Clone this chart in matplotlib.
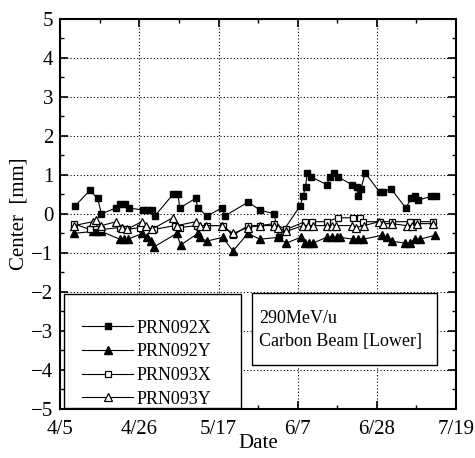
import matplotlib
matplotlib.use("Agg")
import matplotlib.pyplot as plt
from matplotlib.patches import Rectangle
from matplotlib.ticker import MultipleLocator

plt.rcParams['font.family'] = ['Liberation Serif', 'DejaVu Serif']
plt.rcParams['mathtext.fontset'] = 'stix'

# x = days since 4/5
x_ticks = [0, 21, 42, 63, 84, 105]
x_tick_labels = ["4/5", "4/26", "5/17", "6/7", "6/28", "7/19"]

prn092x_day = [3.9, 7.8, 9.9, 10.9, 14.7, 15.8, 17.1, 18.2, 21.9, 23.0, 24.3, 25.1,
               29.9, 31.2, 31.7, 35.9, 36.5, 38.9, 42.9, 43.7, 49.8, 53.0, 56.7, 58.0,
               63.6, 64.4, 65.1, 65.5, 66.5, 70.7, 71.6, 72.6, 73.7, 77.3, 78.7, 78.9,
               79.8, 80.9, 84.8, 85.6, 87.7, 91.7, 93.1, 94.1, 94.9, 98.4, 99.7]
prn092x_val = [0.2, 0.6, 0.4, 0.0, 0.15, 0.25, 0.25, 0.15, 0.1, 0.1, 0.1, -0.05,
               0.5, 0.5, 0.15, 0.4, 0.15, -0.05, 0.15, -0.05, 0.3, 0.1, 0.0, -0.6,
               0.2, 0.45, 0.7, 1.05, 0.95, 0.75, 0.95, 1.05, 0.95, 0.75, 0.7, 0.45,
               0.65, 1.05, 0.55, 0.55, 0.65, 0.15, 0.4, 0.45, 0.35, 0.45, 0.45]

prn092y_day = [3.6, 8.6, 9.7, 10.9, 15.8, 16.9, 17.9, 21.8, 23.0, 24.0, 24.8, 30.9,
               31.9, 36.5, 37.0, 38.8, 43.1, 45.8, 49.8, 53.0, 57.8, 59.9, 63.8, 64.9,
               66.0, 67.0, 70.7, 72.0, 73.3, 74.2, 77.7, 79.0, 80.3, 85.3, 86.6, 87.9,
               91.5, 92.8, 94.1, 95.4, 99.4]
prn092y_val = [-0.5, -0.45, -0.45, -0.45, -0.65, -0.65, -0.65, -0.5, -0.6, -0.7, -0.85, -0.5,
               -0.8, -0.5, -0.6, -0.7, -0.6, -0.95, -0.5, -0.65, -0.6, -0.75, -0.6, -0.75,
               -0.75, -0.75, -0.6, -0.6, -0.6, -0.6, -0.65, -0.65, -0.65, -0.55, -0.6, -0.7,
               -0.75, -0.75, -0.65, -0.65, -0.55]

prn093x_day = [3.6, 7.8, 9.4, 10.9, 15.8, 17.6, 21.1, 24.8, 30.4, 31.7, 36.2, 38.8,
               43.1, 45.8, 49.8, 53.0, 56.7, 59.9, 64.9, 66.7, 70.7, 73.7, 77.7, 79.5,
               80.3, 84.8, 87.9, 92.8, 94.6, 98.8]
prn093x_val = [-0.25, -0.4, -0.3, -0.4, -0.35, -0.4, -0.35, -0.4, -0.3, -0.35, -0.3, -0.3,
               -0.3, -0.55, -0.3, -0.3, -0.25, -0.4, -0.2, -0.2, -0.2, -0.1, -0.1, -0.1,
               -0.2, -0.2, -0.2, -0.2, -0.2, -0.2]

prn093y_day = [3.6, 8.6, 9.4, 10.9, 14.9, 16.3, 17.6, 21.6, 22.7, 24.2, 29.8, 30.9,
               36.0, 37.0, 38.6, 42.9, 45.8, 49.8, 53.0, 56.7, 57.8, 59.9, 64.4, 65.7,
               67.0, 70.8, 72.0, 73.2, 77.3, 78.5, 80.6, 84.6, 85.6, 87.9, 91.9, 93.3,
               94.6, 99.0]
prn093y_val = [-0.3, -0.2, -0.15, -0.3, -0.2, -0.35, -0.4, -0.2, -0.3, -0.4, -0.1, -0.3,
               -0.2, -0.3, -0.3, -0.3, -0.5, -0.35, -0.3, -0.3, -0.35, -0.45, -0.3, -0.3,
               -0.3, -0.3, -0.3, -0.3, -0.3, -0.35, -0.3, -0.2, -0.25, -0.25, -0.3, -0.3,
               -0.25, -0.25]

series_names = ["PRN092X", "PRN092Y", "PRN093X", "PRN093Y"]
note_lines = ["290MeV/u", "Carbon Beam [Lower]"]

fig = plt.figure(figsize=(4.75, 4.58), dpi=100)
ax = fig.add_axes([0.127, 0.107, 0.833, 0.852])

lw = 0.8
h1, = ax.plot(prn092x_day, prn092x_val, '-', color='black', lw=lw, marker='s', ms=5,
              mfc='black', mec='black', zorder=5)
h2, = ax.plot(prn092y_day, prn092y_val, '-', color='black', lw=lw, marker='^', ms=6,
              mfc='black', mec='black', zorder=5)
h3, = ax.plot(prn093x_day, prn093x_val, '-', color='black', lw=lw, marker='s', ms=5,
              mfc='white', mec='black', mew=0.9, zorder=6)
h4, = ax.plot(prn093y_day, prn093y_val, '-', color='black', lw=lw, marker='^', ms=6,
              mfc='white', mec='black', mew=0.9, zorder=6)

ax.set_xlim(0, 105)
ax.set_ylim(-5, 5)
ax.set_xticks(x_ticks)
ax.set_xticklabels(x_tick_labels)
ax.xaxis.set_minor_locator(MultipleLocator(10.5))
ax.yaxis.set_major_locator(MultipleLocator(1))
ax.yaxis.set_minor_locator(MultipleLocator(0.5))
ax.tick_params(which='both', direction='in', top=True, right=True, labelsize=15)
ax.tick_params(axis='x', which='major', pad=8)
ax.tick_params(axis='y', which='major', pad=5)
ax.tick_params(which='major', length=6, width=1.2)
ax.tick_params(which='minor', length=3, width=1.0)
for s in ax.spines.values():
    s.set_linewidth(1.5)
ax.grid(True, which='major', linestyle=(0, (1, 2)), color='black', linewidth=0.8)
ax.set_axisbelow(True)

ax.set_xlabel("Date", fontsize=15, labelpad=-4)
ax.set_ylabel("Center  [mm]", fontsize=15, labelpad=2)

# legend box
ax.add_patch(Rectangle((0.009, 0.003), 0.447, 0.292, transform=ax.transAxes,
                       facecolor='white', edgecolor='black', lw=1.0, zorder=8))
leg = ax.legend([h1, h2, h3, h4], series_names, loc='lower left',
                bbox_to_anchor=(0.033, -0.02), frameon=False, fontsize=13,
                handlelength=2.8, handletextpad=0.2, labelspacing=0.37, borderpad=0.0,
                markerscale=0.85)
leg.set_zorder(9)

# annotation box
ax.add_patch(Rectangle((0.484, 0.113), 0.468, 0.185, transform=ax.transAxes,
                       facecolor='white', edgecolor='black', lw=1.0, zorder=8))
ax.text(0.502, 0.233, note_lines[0], transform=ax.transAxes, fontsize=13,
        va='center', ha='left', zorder=9)
ax.text(0.502, 0.174, note_lines[1], transform=ax.transAxes, fontsize=13,
        va='center', ha='left', zorder=9)

fig.savefig("out.png", dpi=100)
